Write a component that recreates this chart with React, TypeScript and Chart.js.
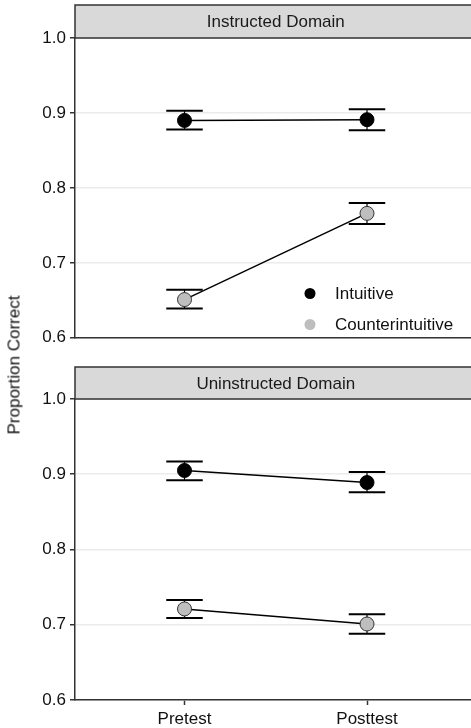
import React, { useEffect, useRef } from 'react';
import { Chart, registerables } from 'chart.js';

Chart.register(...registerables);

const FONT = '"Liberation Sans", Arial, Helvetica, sans-serif';

// ---- data ----
const categories = ['Pretest', 'Posttest'];
const panelTitles = ['Instructed Domain', 'Uninstructed Domain'];
const seriesNames = ['Intuitive', 'Counterintuitive'];
const yTickValues = [0.6, 0.7, 0.8, 0.9, 1.0];

const instructedIntuitive = [0.890, 0.891];
const instructedIntuitiveLow = [0.878, 0.877];
const instructedIntuitiveHigh = [0.903, 0.905];
const instructedCounter = [0.651, 0.766];
const instructedCounterLow = [0.639, 0.752];
const instructedCounterHigh = [0.664, 0.780];

const uninstructedIntuitive = [0.905, 0.889];
const uninstructedIntuitiveLow = [0.892, 0.876];
const uninstructedIntuitiveHigh = [0.917, 0.903];
const uninstructedCounter = [0.721, 0.701];
const uninstructedCounterLow = [0.709, 0.688];
const uninstructedCounterHigh = [0.733, 0.714];

const ERRORBAR_WIDTH = 0.2;
const CANVAS_W = 490;

type PanelProps = {
  title: string;
  intuitive: number[];
  intuitiveLow: number[];
  intuitiveHigh: number[];
  counter: number[];
  counterLow: number[];
  counterHigh: number[];
  top: number;
  height: number;
  areaTop: number;
  stripTop: number;
  xAxisHeight: number;
  showXLabels: boolean;
  showLegend: boolean;
};

function Panel(p: PanelProps) {
  const ref = useRef<HTMLCanvasElement>(null);

  useEffect(() => {
    if (!ref.current) return;
    const toPts = (arr: number[]) => arr.map((v, i) => ({ x: i, y: v }));

    const errorBars = {
      id: 'errorBars',
      beforeDatasetsDraw(chart: any) {
        const { ctx } = chart;
        const x = chart.scales.x;
        const y = chart.scales.y;
        ctx.save();
        ctx.strokeStyle = '#000';
        const sets: [number[], number[]][] = [
          [p.intuitiveLow, p.intuitiveHigh],
          [p.counterLow, p.counterHigh],
        ];
        sets.forEach(([lo, hi]) => {
          lo.forEach((l, i) => {
            const h = hi[i];
            const cx = x.getPixelForValue(i);
            const xl = x.getPixelForValue(i - ERRORBAR_WIDTH / 2);
            const xr = x.getPixelForValue(i + ERRORBAR_WIDTH / 2);
            const yl = y.getPixelForValue(l);
            const yh = y.getPixelForValue(h);
            ctx.lineWidth = 1.2;
            ctx.beginPath();
            ctx.moveTo(cx, yl);
            ctx.lineTo(cx, yh);
            ctx.stroke();
            ctx.lineWidth = 2;
            ctx.beginPath();
            ctx.moveTo(xl, yl);
            ctx.lineTo(xr, yl);
            ctx.moveTo(xl, yh);
            ctx.lineTo(xr, yh);
            ctx.stroke();
          });
        });
        ctx.restore();
      },
    };

    const strip = {
      id: 'strip',
      afterDraw(chart: any) {
        const { ctx, chartArea } = chart;
        const x0 = chartArea.left;
        const w = chartArea.right - chartArea.left;
        const h = chartArea.top - p.stripTop;
        ctx.save();
        ctx.fillStyle = '#d9d9d9';
        ctx.fillRect(x0, p.stripTop, w, h);
        ctx.strokeStyle = '#333333';
        ctx.lineWidth = 1.5;
        ctx.strokeRect(x0, p.stripTop, w, h);
        ctx.fillStyle = '#1a1a1a';
        ctx.font = `17px ${FONT}`;
        ctx.textAlign = 'center';
        ctx.textBaseline = 'middle';
        ctx.fillText(p.title, (chartArea.left + chartArea.right) / 2, p.stripTop + h / 2 + 1);
        ctx.restore();
      },
    };

    const legend = {
      id: 'insideLegend',
      afterDraw(chart: any) {
        if (!p.showLegend) return;
        const { ctx } = chart;
        const items = [
          { label: seriesNames[0], color: '#000000', y: 293.5 },
          { label: seriesNames[1], color: '#bebebe', y: 324.5 },
        ];
        ctx.save();
        items.forEach((it) => {
          ctx.fillStyle = it.color;
          ctx.beginPath();
          ctx.arc(310, it.y, 5.5, 0, Math.PI * 2);
          ctx.fill();
          ctx.fillStyle = '#111111';
          ctx.font = `17px ${FONT}`;
          ctx.textAlign = 'left';
          ctx.textBaseline = 'middle';
          ctx.fillText(it.label, 335, it.y + 1);
        });
        ctx.restore();
      },
    };

    const chart = new Chart(ref.current, {
      type: 'line',
      data: {
        datasets: [
          {
            label: seriesNames[0],
            data: toPts(p.intuitive),
            borderColor: '#000',
            borderWidth: 1.5,
            pointRadius: 7,
            pointBackgroundColor: '#000',
            pointBorderColor: '#000',
            pointBorderWidth: 1,
            fill: false,
          },
          {
            label: seriesNames[1],
            data: toPts(p.counter),
            borderColor: '#000',
            borderWidth: 1.5,
            pointRadius: 7,
            pointBackgroundColor: '#bebebe',
            pointBorderColor: '#333333',
            pointBorderWidth: 1,
            fill: false,
          },
        ],
      },
      options: {
        responsive: false,
        animation: false,
        devicePixelRatio: 1,
        layout: { padding: { top: p.areaTop, left: 0, right: CANVAS_W - 476.5, bottom: 0 } },
        plugins: {
          legend: { display: false },
          tooltip: { enabled: false },
          title: { display: false },
        },
        scales: {
          x: {
            type: 'linear',
            min: -0.6,
            max: 1.6,
            afterBuildTicks: (scale: any) => {
              scale.ticks = categories.map((_, i) => ({ value: i }));
            },
            afterFit: (scale: any) => {
              scale.height = p.xAxisHeight;
            },
            ticks: {
              display: p.showXLabels,
              callback: (v: any) => categories[Number(v)] ?? '',
              color: '#111111',
              font: { family: FONT, size: 17 },
              padding: 4,
              maxRotation: 0,
              autoSkip: false,
            },
            grid: {
              display: p.showXLabels,
              drawOnChartArea: false,
              drawTicks: true,
              tickLength: 5,
              tickColor: '#333333',
              tickWidth: 1.5,
            },
            border: { display: true, color: '#333333', width: 1.5 },
          },
          y: {
            type: 'linear',
            min: 0.6,
            max: 1.0,
            afterBuildTicks: (scale: any) => {
              scale.ticks = yTickValues.map((v) => ({ value: v }));
            },
            afterFit: (scale: any) => {
              scale.width = 75;
            },
            ticks: {
              callback: (v: any) => Number(v).toFixed(1),
              color: '#111111',
              font: { family: FONT, size: 17 },
              padding: 4,
            },
            grid: {
              color: '#ebebeb',
              lineWidth: 1.5,
              drawTicks: true,
              tickLength: 5,
              tickColor: '#333333',
              tickWidth: 1.5,
            },
            border: { display: true, color: '#333333', width: 1.5 },
          },
        },
      },
      plugins: [errorBars, strip, legend],
    } as any);

    return () => chart.destroy();
  }, []);

  return (
    <canvas
      ref={ref}
      width={CANVAS_W}
      height={p.height}
      style={{ position: 'absolute', left: 0, top: p.top, width: CANVAS_W, height: p.height }}
    />
  );
}

export default function App() {
  return (
    <div
      style={{
        position: 'fixed',
        left: 0,
        top: 0,
        width: 471,
        height: 728,
        overflow: 'hidden',
        background: '#ffffff',
      }}
    >
      <Panel
        title={panelTitles[0]}
        intuitive={instructedIntuitive}
        intuitiveLow={instructedIntuitiveLow}
        intuitiveHigh={instructedIntuitiveHigh}
        counter={instructedCounter}
        counterLow={instructedCounterLow}
        counterHigh={instructedCounterHigh}
        top={0}
        height={352}
        areaTop={38}
        stripTop={5}
        xAxisHeight={12}
        showXLabels={false}
        showLegend={true}
      />
      <Panel
        title={panelTitles[1]}
        intuitive={uninstructedIntuitive}
        intuitiveLow={uninstructedIntuitiveLow}
        intuitiveHigh={uninstructedIntuitiveHigh}
        counter={uninstructedCounter}
        counterLow={uninstructedCounterLow}
        counterHigh={uninstructedCounterHigh}
        top={352}
        height={376}
        areaTop={47}
        stripTop={15}
        xAxisHeight={28}
        showXLabels={true}
        showLegend={false}
      />
      <div
        style={{
          position: 'absolute',
          left: 14,
          top: 365,
          transform: 'translate(-50%, -50%) rotate(-90deg)',
          whiteSpace: 'nowrap',
          fontFamily: FONT,
          fontSize: 17,
          color: '#111111',
          lineHeight: 1,
        }}
      >
        Proportion Correct
      </div>
    </div>
  );
}
